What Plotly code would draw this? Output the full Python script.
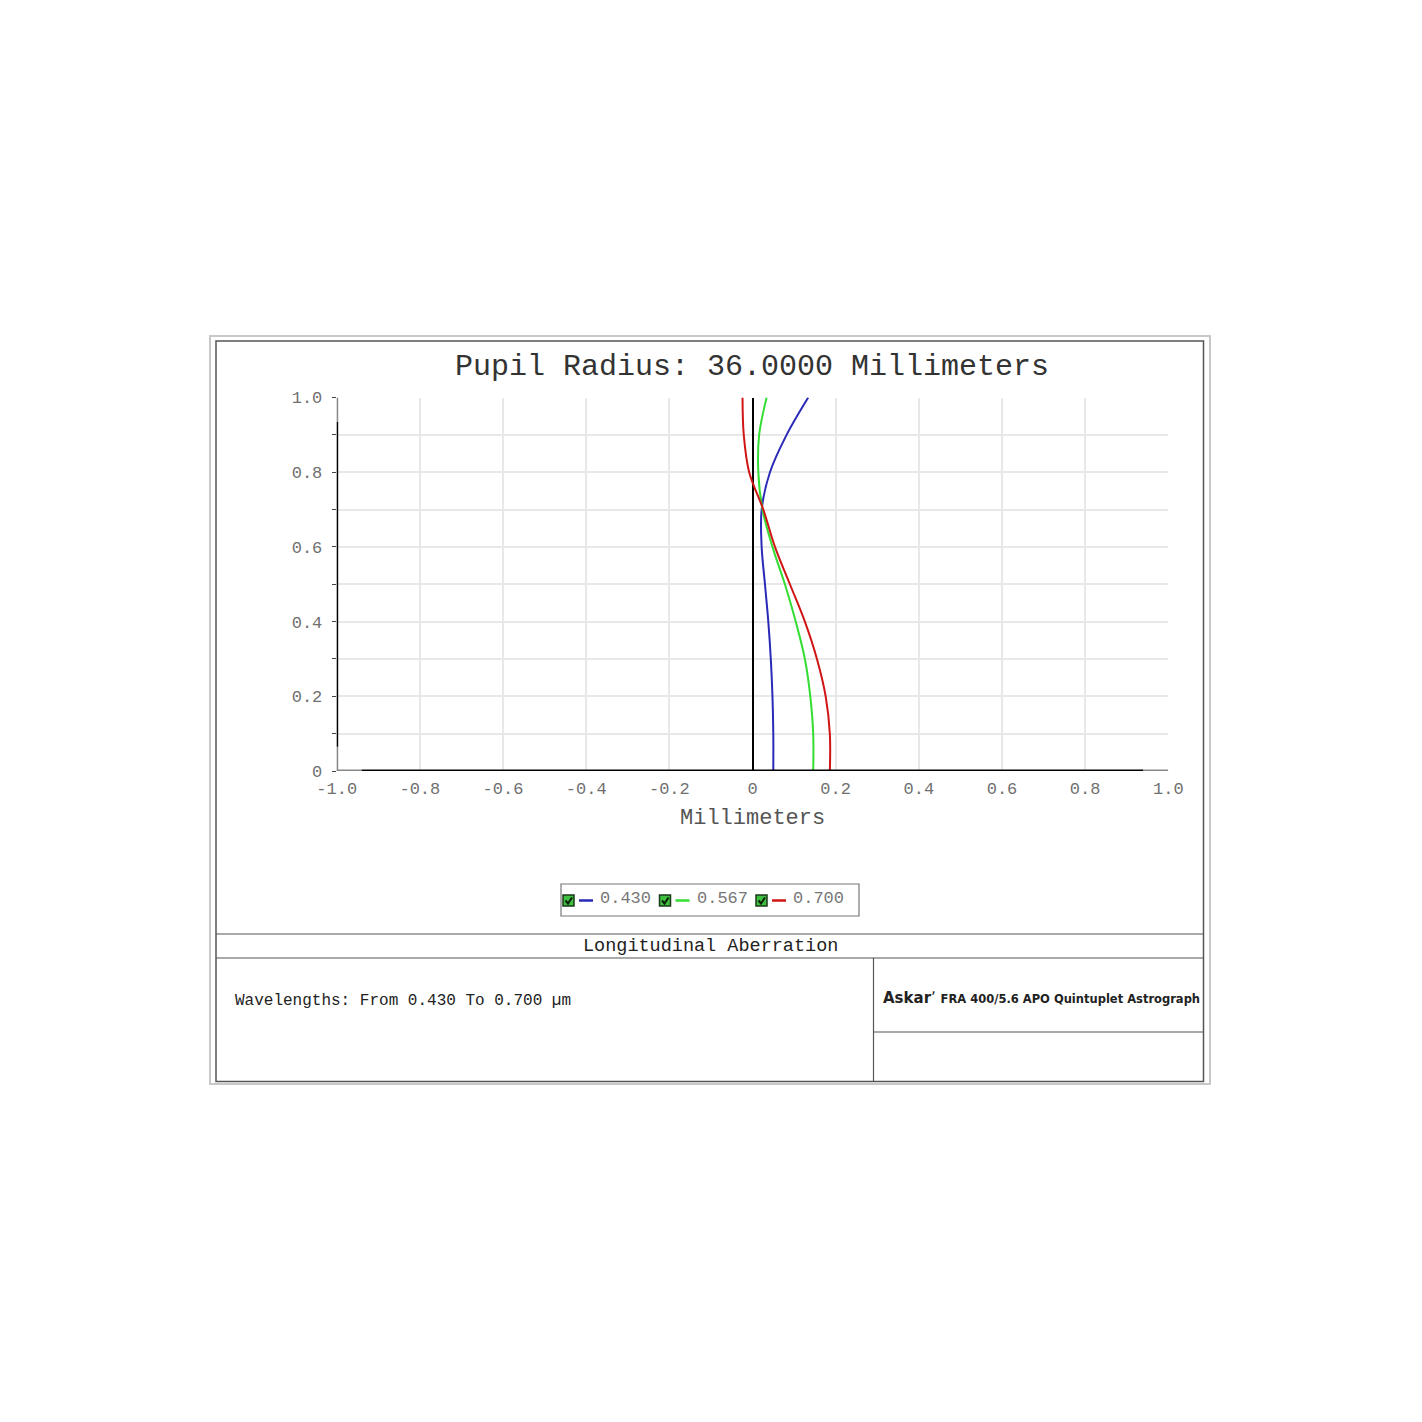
import plotly.graph_objects as go

# ---------------- data ----------------
pupil = [0.0, 0.1, 0.2, 0.3, 0.4, 0.5, 0.6, 0.7, 0.8, 0.9, 1.0]
wl_names = ["0.430", "0.567", "0.700"]
wl_colors = ["#2a2ab8", "#33dd33", "#d01515"]
ab_430 = [0.050, 0.050, 0.048, 0.044, 0.038, 0.030, 0.022, 0.022, 0.042, 0.082, 0.134]
ab_567 = [0.146, 0.146, 0.139, 0.126, 0.104, 0.078, 0.048, 0.024, 0.014, 0.016, 0.034]
ab_700 = [0.186, 0.186, 0.176, 0.155, 0.126, 0.090, 0.054, 0.026, -0.008, -0.021, -0.024]
series = [ab_430, ab_567, ab_700]

x_ticks = [-1.0, -0.8, -0.6, -0.4, -0.2, 0.0, 0.2, 0.4, 0.6, 0.8, 1.0]
x_ticktext = ["-1.0", "-0.8", "-0.6", "-0.4", "-0.2", "0", "0.2", "0.4", "0.6", "0.8", "1.0"]
y_ticks = [0.0, 0.2, 0.4, 0.6, 0.8, 1.0]
y_ticktext = ["0", "0.2", "0.4", "0.6", "0.8", "1.0"]

title_text = "Pupil Radius: 36.0000 Millimeters"
x_title = "Millimeters"
panel_title = "Longitudinal Aberration"
wl_text = "Wavelengths: From 0.430 To 0.700 \u00b5m"

W = H = 1422
OFF = 8  # page body margin
MONO = "Liberation Mono, Courier New, monospace"


def px(x):
    return (x - OFF) / W


def py(y):
    return 1 - (y - OFF) / H


fig = go.Figure()
for name, col, vals in zip(wl_names, wl_colors, series):
    fig.add_trace(go.Scatter(x=vals, y=pupil, mode="lines", name=name,
                             line=dict(color=col, width=2, shape="spline", smoothing=1.0),
                             showlegend=False))

# plot area pixels
X0, X1 = 336.7, 1168.3
Y0, Y1 = 771.0, 397.5

fig.update_layout(
    width=W, height=H,
    margin=dict(l=0, r=0, t=0, b=0, pad=0, autoexpand=False),
    paper_bgcolor="white", plot_bgcolor="white",
    xaxis=dict(domain=[px(X0), px(X1)], range=[-1, 1], tickvals=x_ticks, ticktext=x_ticktext,
               automargin=False, ticklabelstandoff=5,
               showgrid=True, gridcolor="#e8e8e8", gridwidth=2,
               zeroline=True, zerolinecolor="black", zerolinewidth=2,
               showline=False, ticks="", tickfont=dict(family=MONO, size=17, color="#707070"),
               fixedrange=True),
    yaxis=dict(domain=[py(Y0), py(Y1)], range=[0, 1], tickvals=y_ticks, ticktext=y_ticktext,
               automargin=False, ticklabelstandoff=6,
               showgrid=True, gridcolor="#e8e8e8", gridwidth=2,
               minor=dict(dtick=0.1, showgrid=True, gridcolor="#e8e8e8", gridwidth=2,
                          ticks="outside", ticklen=4, tickcolor="#444"),
               ticks="outside", ticklen=4, tickcolor="#444",
               zeroline=False, showline=False,
               tickfont=dict(family=MONO, size=17, color="#707070"), fixedrange=True),
)

shapes = []
# axis lines (black with grey ends)
shapes.append(dict(type="line", xref="x", yref="y", x0=-1, x1=-0.94, y0=0, y1=0,
                   line=dict(color="#888", width=3)))
shapes.append(dict(type="line", xref="x", yref="y", x0=-0.94, x1=0.94, y0=0, y1=0,
                   line=dict(color="black", width=3)))
shapes.append(dict(type="line", xref="x", yref="y", x0=0.94, x1=1, y0=0, y1=0,
                   line=dict(color="#888", width=3)))
shapes.append(dict(type="line", xref="x", yref="y", x0=-1, x1=-1, y0=0, y1=0.065,
                   line=dict(color="#888", width=3)))
shapes.append(dict(type="line", xref="x", yref="y", x0=-1, x1=-1, y0=0.065, y1=0.935,
                   line=dict(color="black", width=3)))
shapes.append(dict(type="line", xref="x", yref="y", x0=-1, x1=-1, y0=0.935, y1=1,
                   line=dict(color="#888", width=3)))

# frames
shapes.append(dict(type="rect", xref="paper", yref="paper", x0=px(210), x1=px(1210), y0=py(336), y1=py(1084),
                   line=dict(color="#c8c8c8", width=2)))
shapes.append(dict(type="rect", xref="paper", yref="paper", x0=px(216), x1=px(1203.5), y0=py(341), y1=py(1081.5),
                   line=dict(color="#555", width=1.5)))
shapes.append(dict(type="line", xref="paper", yref="paper", x0=px(216), x1=px(1203.5), y0=py(934), y1=py(934),
                   line=dict(color="#555", width=1.2)))
shapes.append(dict(type="line", xref="paper", yref="paper", x0=px(216), x1=px(1203.5), y0=py(958), y1=py(958),
                   line=dict(color="#555", width=1.2)))
shapes.append(dict(type="line", xref="paper", yref="paper", x0=px(873.5), x1=px(873.5), y0=py(958), y1=py(1081.5),
                   line=dict(color="#555", width=1.2)))
shapes.append(dict(type="line", xref="paper", yref="paper", x0=px(873.5), x1=px(1203.5), y0=py(1032), y1=py(1032),
                   line=dict(color="#555", width=1.2)))

# legend box
shapes.append(dict(type="rect", xref="paper", yref="paper", x0=px(561), x1=px(859), y0=py(884), y1=py(916),
                   line=dict(color="#777", width=1.2)))

annotations = []
LX0 = 563
STEP = 96.5
LY = 900.5
for i, (name, col) in enumerate(zip(wl_names, wl_colors)):
    bx = LX0 + i * STEP
    # checkbox
    shapes.append(dict(type="rect", xref="paper", yref="paper", x0=px(bx), x1=px(bx + 11), y0=py(LY - 5.5), y1=py(LY + 5.5),
                       fillcolor="#3fbf3f", line=dict(color="#1a3a1a", width=1.5)))
    shapes.append(dict(type="path", xref="paper", yref="paper",
                       path=f"M {px(bx+2.5)} {py(LY)} L {px(bx+5)} {py(LY+3)} L {px(bx+9)} {py(LY-3)}",
                       line=dict(color="#0a200a", width=2)))
    # line sample
    shapes.append(dict(type="line", xref="paper", yref="paper", x0=px(bx + 16), x1=px(bx + 30), y0=py(LY), y1=py(LY),
                       line=dict(color=col, width=2.5)))
    annotations.append(dict(x=px(bx + 35), y=py(LY - 2), xref="paper", yref="paper", text=name, showarrow=False,
                            xanchor="left", yanchor="middle", font=dict(family=MONO, size=17, color="#777")))

annotations.append(dict(x=px(752.5), y=py(367), xref="paper", yref="paper", text=title_text, showarrow=False,
                        xanchor="center", yanchor="middle", font=dict(family=MONO, size=30, color="#333")))
annotations.append(dict(x=px(752.5), y=py(819), xref="paper", yref="paper", text=x_title, showarrow=False,
                        xanchor="center", yanchor="middle", font=dict(family=MONO, size=22, color="#555")))
annotations.append(dict(x=px(710), y=py(946.5), xref="paper", yref="paper", text=panel_title, showarrow=False,
                        xanchor="center", yanchor="middle", font=dict(family=MONO, size=18.5, color="#222")))
annotations.append(dict(x=px(233), y=py(1001), xref="paper", yref="paper", text=wl_text, showarrow=False,
                        xanchor="left", yanchor="middle", font=dict(family=MONO, size=16, color="#222")))
annotations.append(dict(x=px(881), y=py(998.5), xref="paper", yref="paper",
                        text="<b>Askar</b>\u02bc <b><span style='font-size:11.5px'>FRA 400/5.6 APO Quintuplet Astrograph</span></b>",
                        showarrow=False, xanchor="left", yanchor="middle",
                        font=dict(family="DejaVu Sans, sans-serif", size=15, color="#222")))

fig.update_layout(shapes=shapes, annotations=annotations)
fig.write_html("out.html")
